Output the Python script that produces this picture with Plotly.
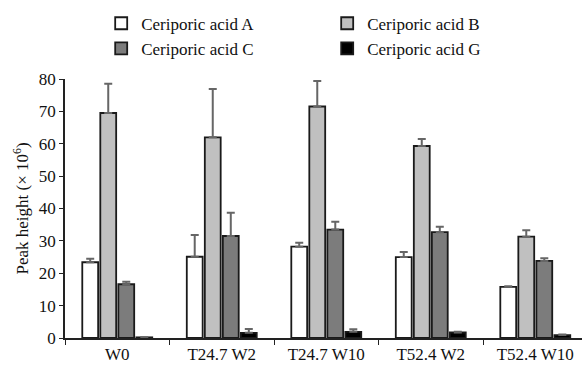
import plotly.graph_objects as go

categories = ["W0", "T24.7 W2", "T24.7 W10", "T52.4 W2", "T52.4 W10"]
series_names = ["Ceriporic acid A", "Ceriporic acid B", "Ceriporic acid C", "Ceriporic acid G"]
acid_a = [23.4, 25.1, 28.2, 25.0, 15.8]
acid_a_err = [1.1, 6.7, 1.2, 1.6, 0.2]
acid_b = [69.5, 62.0, 71.5, 59.3, 31.3]
acid_b_err = [9.0, 14.9, 7.9, 2.2, 2.0]
acid_c = [16.6, 31.5, 33.5, 32.7, 23.8]
acid_c_err = [0.8, 7.2, 2.4, 1.7, 0.8]
acid_g = [0.2, 1.6, 1.9, 1.7, 0.9]
acid_g_err = [0.0, 1.2, 0.8, 0.2, 0.2]
y_ticks = [0, 10, 20, 30, 40, 50, 60, 70, 80]

values = [acid_a, acid_b, acid_c, acid_g]
errors = [acid_a_err, acid_b_err, acid_c_err, acid_g_err]
fills = ["#ffffff", "#c0c0c0", "#7c7c7c", "#000000"]

FONT = "Liberation Serif, Times New Roman, serif"

fig = go.Figure()
for name, v, e, c in zip(series_names, values, errors, fills):
    fig.add_trace(go.Bar(
        x=categories, y=v, name=name,
        marker=dict(color=c, line=dict(color="#1a1a1a", width=1.8)),
        error_y=dict(type="data", array=e, symmetric=False, arrayminus=[0]*len(e),
                     color="#666666", thickness=2, width=4),
    ))

fig.update_layout(
    width=582, height=368,
    margin=dict(l=65, r=0, t=79, b=30),
    paper_bgcolor="white", plot_bgcolor="white",
    barmode="group", bargap=0.31, bargroupgap=0.12,
    font=dict(family=FONT, size=17, color="#111111"),
    legend=dict(orientation="h", x=0.07, y=1.283, xanchor="left", yanchor="top",
                entrywidth=181, entrywidthmode="pixels",
                font=dict(family=FONT, size=17, color="#111111"),
                bgcolor="rgba(0,0,0,0)", tracegroupgap=0),
    xaxis=dict(type="category", range=[-0.5, 4.447], showline=True, linecolor="#222222",
               linewidth=1.5, ticks="outside", tickson="boundaries", ticklen=5,
               tickcolor="#222222", showgrid=False, zeroline=False,
               tickfont=dict(family=FONT, size=17)),
    yaxis=dict(range=[0, 80], tickvals=y_ticks, showline=True, linecolor="#222222",
               linewidth=1.5, ticks="outside", ticklen=4, tickcolor="#222222",
               showgrid=False, zeroline=False,
               tickfont=dict(family=FONT, size=17),
               title=dict(text="Peak height (× 10<sup>6</sup>)", standoff=6,
                          font=dict(family=FONT, size=17))),
)

fig.write_html("out.html")
